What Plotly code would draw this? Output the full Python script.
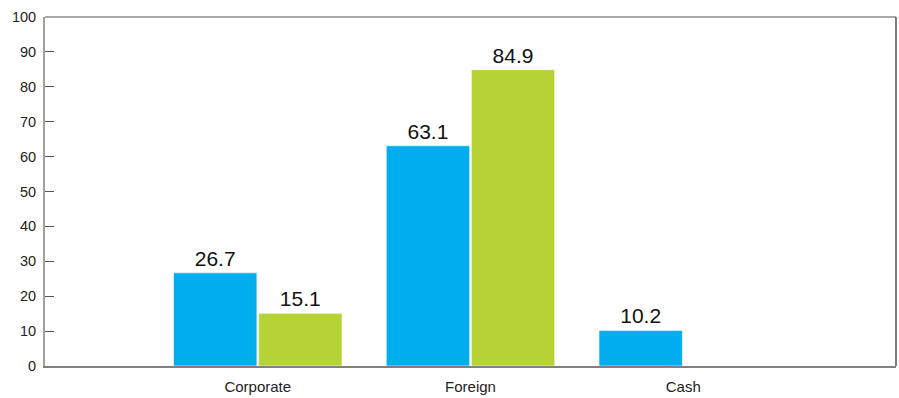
import plotly.graph_objects as go

categories = ["Corporate", "Foreign", "Cash"]
series_a = [26.7, 63.1, 10.2]
series_b = [15.1, 84.9, None]
y_ticks = list(range(0, 101, 10))

FONT = "Liberation Sans Narrow, Arial Narrow, Liberation Sans, Arial"

fig = go.Figure()
fig.add_trace(go.Bar(
    x=categories, y=series_a, name="A",
    marker=dict(color="#00ADEF", line=dict(color="rgba(255,255,255,0.6)", width=1)),
    text=[f"{v:.1f}" for v in series_a], textposition="outside",
    textfont=dict(family=FONT, size=21, color="#111"),
    cliponaxis=False,
))
fig.add_trace(go.Bar(
    x=categories, y=series_b, name="B",
    marker=dict(color="#B5D334", line=dict(color="rgba(255,255,255,0.6)", width=1)),
    text=[f"{v:.1f}" if v is not None else "" for v in series_b], textposition="outside",
    textfont=dict(family=FONT, size=21, color="#111"),
    cliponaxis=False,
))

fig.update_layout(
    width=899, height=398,
    margin=dict(l=45, r=3, t=17, b=32),
    paper_bgcolor="white", plot_bgcolor="white",
    showlegend=False,
    barmode="group", bargap=0.2, bargroupgap=0.02,
    font=dict(family=FONT, size=14.5, color="#222"),
    shapes=[
        dict(type="line", xref="paper", yref="paper", x0=0, x1=1, y0=1, y1=1,
             line=dict(color="#a8a8a8", width=2)),
        dict(type="line", xref="paper", yref="paper", x0=1, x1=1, y0=0, y1=1,
             line=dict(color="#555555", width=1.5)),
    ],
)
fig.update_xaxes(
    range=[-1, 3], type="category", automargin=False,
    showline=True, linecolor="#808080", linewidth=1.5, mirror=False,
    ticks="", showgrid=False, ticklabelstandoff=6,
    tickfont=dict(family=FONT, size=15, color="#222"),
)
fig.update_yaxes(
    range=[0, 100], tickvals=y_ticks, automargin=False,
    showline=True, linecolor="#a0a0a0", linewidth=2, mirror=False,
    ticks="inside", ticklen=9, tickcolor="#555", tickwidth=1,
    showgrid=False, zeroline=False, ticklabelstandoff=4,
    tickfont=dict(family=FONT, size=14.5, color="#222"),
)

fig.write_html(
    "out.html",
    config={"displayModeBar": False},
    post_script="document.body.style.margin='0';document.body.style.overflow='hidden';",
)
